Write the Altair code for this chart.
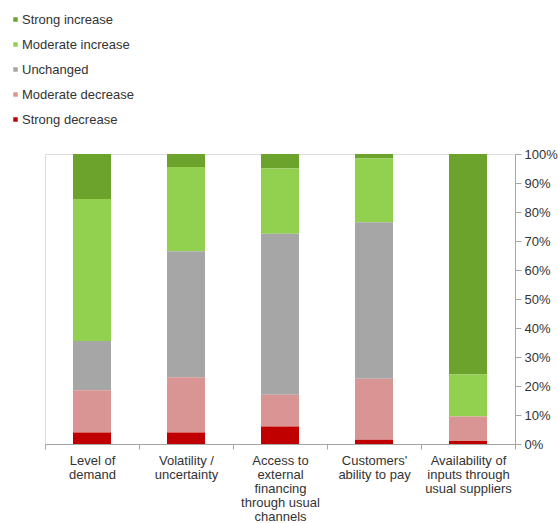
import altair as alt
import pandas as pd

categories = ["Level of|demand", "Volatility /|uncertainty",
              "Access to|external|financing|through usual|channels",
              "Customers'|ability to pay",
              "Availability of|inputs through|usual suppliers"]
series = ["Strong increase", "Moderate increase", "Unchanged",
          "Moderate decrease", "Strong decrease"]
colors = ["#6ba32d", "#92d050", "#a6a6a6", "#d99594", "#c00000"]

strong_increase = [15.5, 4.5, 5.0, 1.5, 76.0]
moderate_increase = [49.0, 29.0, 22.5, 22.0, 14.5]
unchanged = [17.0, 43.5, 55.5, 54.0, 0.0]
moderate_decrease = [14.5, 19.0, 11.0, 21.0, 8.5]
strong_decrease = [4.0, 4.0, 6.0, 1.5, 1.0]

values = [strong_increase, moderate_increase, unchanged,
          moderate_decrease, strong_decrease]

rows = []
for si, (s, vals) in enumerate(zip(series, values)):
    for c, v in zip(categories, vals):
        rows.append({"category": c, "series": s, "value": v,
                     "rank": len(series) - si})
df = pd.DataFrame(rows)

FONT = "Liberation Sans"
TXT = "#333333"
LINE = "#a6a6a6"

chart = alt.Chart(df).mark_bar(size=38).encode(
    x=alt.X("category:N", sort=categories, title=None,
            scale=alt.Scale(paddingInner=0, paddingOuter=0),
            axis=alt.Axis(labelAngle=0, labelExpr="split(datum.label, '|')",
                          tickBand="extent", tickSize=5, labelPadding=5,
                          labelFontSize=13, labelFont=FONT, labelColor=TXT,
                          labelLineHeight=14, domainColor=LINE, tickColor=LINE,
                          labelBaseline="top")),
    y=alt.Y("value:Q", stack="zero", title=None,
            scale=alt.Scale(domain=[0, 100], nice=False),
            axis=alt.Axis(orient="right", values=list(range(0, 101, 10)),
                          labelExpr="datum.value + '%'", grid=False,
                          tickSize=6, labelPadding=3, labelFontSize=13,
                          labelFont=FONT, labelColor=TXT,
                          domainColor=LINE, tickColor=LINE)),
    color=alt.Color("series:N",
                    scale=alt.Scale(domain=series, range=colors),
                    legend=alt.Legend(orient="none", legendX=-36, legendY=-141,
                                      title=None, symbolType="square",
                                      symbolSize=20, symbolStrokeWidth=0,
                                      labelFontSize=13, labelFont=FONT,
                                      labelColor=TXT, rowPadding=11,
                                      padding=0, labelOffset=0,
                                      symbolOffset=0)),
    order=alt.Order("rank:Q", sort="ascending"),
).properties(
    width=470, height=290,
    autosize=alt.AutoSizeParams(type="none"),
    padding={"left": 45, "top": 154, "right": 43, "bottom": 79},
).configure_view(stroke=None).configure(background="white")

chart.save("out.html", embed_options={"renderer": "svg", "actions": False})
